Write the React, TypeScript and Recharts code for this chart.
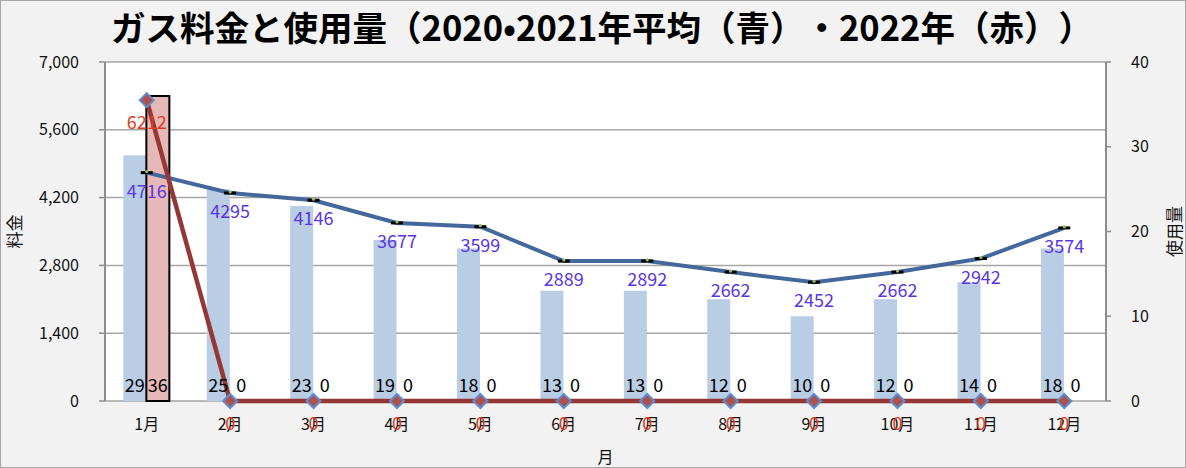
import React from "react";
import {
  ComposedChart,
  Bar,
  Line,
  XAxis,
  YAxis,
  CartesianGrid,
  LabelList,
  Label,
  Cell,
} from "recharts";

// ---------------------------------------------------------------------------
// データ
// ---------------------------------------------------------------------------
const months = ["1月", "2月", "3月", "4月", "5月", "6月", "7月", "8月", "9月", "10月", "11月", "12月"];
const feeAvg = [4716, 4295, 4146, 3677, 3599, 2889, 2892, 2662, 2452, 2662, 2942, 3574]; // 料金 2020・2021年平均
const fee2022 = [6212, 0, 0, 0, 0, 0, 0, 0, 0, 0, 0, 0]; // 料金 2022年
const usageAvg = [29, 25, 23, 19, 18, 13, 13, 12, 10, 12, 14, 18]; // 使用量 2020・2021年平均
const usage2022 = [36, 0, 0, 0, 0, 0, 0, 0, 0, 0, 0, 0]; // 使用量 2022年
const feeTicks = [0, 1400, 2800, 4200, 5600, 7000];
const usageTicks = [0, 10, 20, 30, 40];
const boundaryTicks = [0, 1, 2, 3, 4, 5, 6, 7, 8, 9, 10, 11, 12];

const data = months.map((m, i) => ({
  month: m,
  feeAvg: feeAvg[i],
  fee2022: fee2022[i],
  usageAvg: usageAvg[i],
  usage2022: usage2022[i],
}));

// ---------------------------------------------------------------------------
// スタイル
// ---------------------------------------------------------------------------
const FONT = '"Noto Sans CJK JP", "Noto Sans", sans-serif';
const AXIS_GRAY = "#8e8e8e";
const TICK_STYLE = { fontSize: 16, fill: "#111", fontFamily: FONT };

function BlueDot(props: any) {
  const { cx, cy } = props;
  if (cx == null || cy == null) return null;
  return (
    <g>
      <line x1={cx - 6} x2={cx + 6} y1={cy} y2={cy} stroke="#000" strokeWidth={3} />
      <circle cx={cx} cy={cy - 1} r={1.6} fill="#9bbb59" />
    </g>
  );
}

function Diamond(props: any) {
  const { cx, cy } = props;
  if (cx == null || cy == null) return null;
  const r = 7;
  return (
    <polygon
      points={`${cx},${cy - r} ${cx + r},${cy} ${cx},${cy + r} ${cx - r},${cy}`}
      fill="#b0504b"
      stroke="#5b8dd0"
      strokeWidth={2}
    />
  );
}

function lineLabel(color: string, dy: number) {
  return (props: any) => {
    const { x, y, value } = props;
    return (
      <text
        x={x}
        y={y + dy}
        textAnchor="middle"
        fill={color}
        fontSize={18}
        fontFamily={FONT}
      >
        {value}
      </text>
    );
  };
}

function barLabel(props: any) {
  const { x, y, width, height, value } = props;
  return (
    <text
      x={x + width / 2}
      y={y + height - 9}
      textAnchor="middle"
      fill="#000"
      fontSize={18}
      fontFamily={FONT}
    >
      {value}
    </text>
  );
}

function RotatedLabel({ p, dx, text }: { p: any; dx: number; text: string }) {
  const vb = p.viewBox;
  const cx = vb.x + dx;
  const cy = vb.y + vb.height / 2;
  return (
    <text
      x={cx}
      y={cy}
      textAnchor="middle"
      dominantBaseline="central"
      transform={`rotate(-90 ${cx} ${cy})`}
      fontSize={17}
      fontFamily={FONT}
      fill="#111"
    >
      {text}
    </text>
  );
}

export default function App() {
  return (
    <div
      style={{
        position: "absolute",
        left: 0,
        top: 0,
        width: 1186,
        height: 468,
        boxSizing: "border-box",
        border: "1px solid #a6a6a6",
        background: "#f2f2f2",
        fontFamily: FONT,
      }}
    >
      <div
        style={
          {
            position: "absolute",
            left: 18,
            top: 0,
            width: 1166,
            textAlign: "center",
            fontSize: 34.5,
            fontWeight: 700,
            lineHeight: "50px",
            color: "#000",
            whiteSpace: "nowrap",
            textSpacingTrim: "space-all",
          } as any
        }
      >
        ガス料金と使用量（2020•2021年平均（青）・2022年（赤））
      </div>
      <div style={{ position: "absolute", left: -1, top: -1 }}>
        <ComposedChart
          width={1186}
          height={468}
          data={data}
          margin={{ top: 62, right: 0, bottom: 0, left: 0 }}
          barGap={0}
          barCategoryGap="22%"
        >
          <CartesianGrid
            yAxisId="fee"
            xAxisId="edge"
            fill="#ffffff"
            stroke="#a6a6a6"
            strokeWidth={1.5}
          />
          <XAxis
            xAxisId="edge"
            type="number"
            domain={[0, 12]}
            ticks={boundaryTicks}
            height={0}
            tick={false}
            tickSize={6}
            tickLine={{ stroke: AXIS_GRAY, strokeWidth: 1.5 }}
            axisLine={false}
          />
          <XAxis
            dataKey="month"
            height={67}
            tick={TICK_STYLE}
            tickLine={false}
            tickMargin={12}
            axisLine={false}
          >
            <Label
              content={(p: any) => {
                const vb = p.viewBox;
                return (
                  <text
                    x={vb.x + vb.width / 2}
                    y={vb.y + 62}
                    textAnchor="middle"
                    fontSize={16}
                    fontFamily={FONT}
                    fill="#111"
                  >
                    月
                  </text>
                );
              }}
            />
          </XAxis>
          <YAxis
            yAxisId="fee"
            width={105}
            domain={[0, 7000]}
            ticks={feeTicks}
            tickFormatter={(v: number) => v.toLocaleString("en-US")}
            tick={TICK_STYLE}
            tickSize={6}
            tickMargin={20}
            tickLine={{ stroke: AXIS_GRAY, strokeWidth: 1.5 }}
            axisLine={{ stroke: AXIS_GRAY, strokeWidth: 2 }}
          >
            <Label content={(p: any) => <RotatedLabel p={p} dx={13} text="料金" />} />
          </YAxis>
          <YAxis
            yAxisId="usage"
            orientation="right"
            width={80}
            domain={[0, 40]}
            ticks={usageTicks}
            tick={TICK_STYLE}
            tickSize={5}
            tickMargin={20}
            tickLine={{ stroke: AXIS_GRAY, strokeWidth: 1.5 }}
            axisLine={{ stroke: AXIS_GRAY, strokeWidth: 2 }}
          >
            <Label content={(p: any) => <RotatedLabel p={p} dx={67} text="使用量" />} />
          </YAxis>

          <Bar yAxisId="usage" dataKey="usageAvg" fill="#b9cde5" isAnimationActive={false}>
            <LabelList dataKey="usageAvg" content={barLabel} />
          </Bar>
          <Bar
            yAxisId="usage"
            dataKey="usage2022"
            fill="#e6b9b8"
            minPointSize={1}
            isAnimationActive={false}
          >
            {usage2022.map((v, i) => (
              <Cell
                key={i}
                fill={v > 0 ? "#e6b9b8" : "none"}
                stroke={v > 0 ? "#000" : "none"}
                strokeWidth={2}
              />
            ))}
            <LabelList dataKey="usage2022" content={barLabel} />
          </Bar>

          <Line
            yAxisId="fee"
            dataKey="feeAvg"
            stroke="#44689b"
            strokeWidth={4}
            dot={<BlueDot />}
            activeDot={false}
            isAnimationActive={false}
          >
            <LabelList dataKey="feeAvg" content={lineLabel("#5a35e6", 25)} />
          </Line>
          <Line
            yAxisId="fee"
            dataKey="fee2022"
            stroke="#953735"
            strokeWidth={4.5}
            dot={<Diamond />}
            activeDot={false}
            isAnimationActive={false}
          >
            <LabelList dataKey="fee2022" content={lineLabel("#e23b1c", 29)} />
          </Line>
        </ComposedChart>
      </div>
    </div>
  );
}
